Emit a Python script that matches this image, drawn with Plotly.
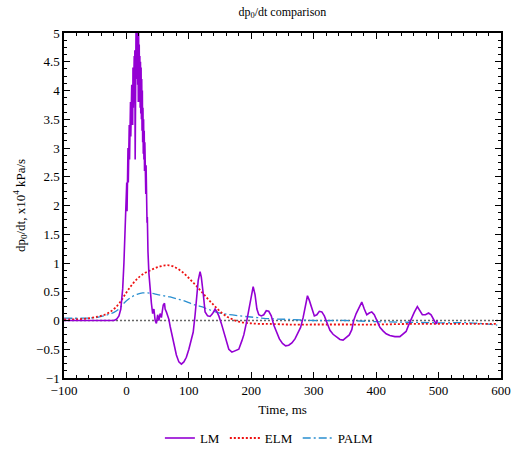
import plotly.graph_objects as go

# ---------------- data ----------------
lm_time = [-100, -20, -16, -12, -9, -6, -4, -2, 0,
           0.5, 1.0, 1.5, 2.0, 2.5, 3.0, 3.5, 4.0, 4.5, 5.0, 5.5, 6.0, 6.5, 7.0, 7.5, 8.0,
           8.5, 9.0, 9.5, 10.0, 10.5, 11.0, 11.5, 12.0, 12.5, 13.0, 13.5, 14.0, 14.5, 15.0,
           15.5, 16.0, 16.5, 17.0, 17.5, 18.0, 18.5, 19.0, 19.5, 20.0, 20.5, 21.0, 21.5, 22.0,
           22.5, 23.0, 23.5, 24.0, 24.5, 25.0, 25.5, 26.0, 26.5, 27.0, 27.5, 28.0, 28.5, 29.0,
           29.5, 30.0, 30.5, 31.0, 31.5, 32.0, 32.5, 33.0, 33.5, 34.0,
           34.5, 36, 38, 40, 42, 44, 46, 48, 50, 52, 54, 56, 58, 59, 61, 62, 64, 66, 68,
           70, 73, 76, 80, 84, 88, 92, 96, 100, 104, 107, 110, 112, 115, 118, 120, 123, 126,
           130, 134, 138, 142, 145, 148, 152, 156, 160, 164, 169, 175, 180, 185, 188, 192,
           195, 199, 203, 206, 209, 212, 216, 220, 224, 228, 232, 236, 241, 245, 250, 255,
           260, 265, 270, 275, 279, 283, 286, 290, 293, 297, 301, 305, 309, 313, 317, 321,
           326, 331, 337, 342, 347, 352, 357, 361, 364, 368, 373, 377, 381, 385, 389, 393,
           397, 401, 406, 411, 416, 422, 430, 438, 443, 448, 452, 457, 461, 466, 470, 474,
           479, 484, 488, 492, 496, 498]
lm_value = [0, 0, 0.02, 0.08, 0.2, 0.55, 1.0, 1.6, 2.1,
            2.4, 1.9, 2.7, 2.2, 3.0, 2.4, 3.2, 2.6, 3.4, 2.8, 3.6, 3.0, 3.8, 3.2, 3.9, 3.3,
            4.1, 3.5, 4.3, 3.4, 4.4, 3.7, 4.5, 3.8, 4.6, 3.9, 4.7, 2.8, 4.9, 4.0,
            5.3, 4.2, 5.6, 4.3, 5.5, 4.1, 5.2, 3.8, 5.0, 3.9, 4.8, 3.8, 4.6, 3.7,
            4.5, 3.6, 4.4, 3.5, 4.2, 3.3, 4.0, 3.1, 3.7, 2.9, 3.5, 2.8, 3.3, 2.6,
            3.1, 2.4, 2.9, 2.2, 2.7, 2.0, 2.3, 1.7, 1.8, 1.3,
            1.2, 0.82, 0.45, 0.3, 0.12, 0.2, 0.0, -0.05, 0.1, 0.0, 0.12, 0.05, 0.2, 0.27, 0.3, 0.2, 0.15, 0.1, 0.02,
            -0.1, -0.25, -0.4, -0.6, -0.72, -0.76, -0.72, -0.64, -0.5, -0.35, -0.2, 0.1, 0.36, 0.7, 0.85, 0.75, 0.47, 0.15,
            0.08, 0.07, 0.12, 0.2, 0.15, 0.08, -0.05, -0.2, -0.38, -0.5, -0.55, -0.53, -0.5, -0.35, -0.25, -0.05,
            0.12, 0.4, 0.59, 0.45, 0.2, 0.1, 0.08, 0.1, 0.17, 0.16, 0.08, -0.08, -0.22, -0.32, -0.4, -0.44,
            -0.43, -0.39, -0.32, -0.22, -0.12, 0.05, 0.21, 0.43, 0.35, 0.2, 0.08, 0.1, 0.16, 0.15, 0.08, -0.03,
            -0.17, -0.24, -0.29, -0.33, -0.34, -0.3, -0.25, -0.16, 0.0, 0.12, 0.25, 0.32, 0.2, 0.1, 0.13, 0.15,
            0.1, 0.0, -0.12, -0.18, -0.23, -0.26, -0.28, -0.28, -0.24, -0.19, -0.08, 0.05, 0.14, 0.24, 0.16, 0.1,
            0.1, 0.13, 0.1, 0.03, -0.06, 0.0]

elm_time = [-100, -80, -60, -45, -35, -26, -18, -10, -4, 2, 8, 15, 22, 30, 38, 46, 54, 62, 68, 75,
            82, 90, 98, 106, 114, 122, 130, 138, 146, 154, 162, 170, 180, 190, 200, 215, 230, 260,
            300, 350, 400, 450, 500, 550, 594]
elm_value = [0.02, 0.02, 0.04, 0.07, 0.1, 0.15, 0.22, 0.32, 0.42, 0.52, 0.61, 0.7, 0.77, 0.83, 0.87,
             0.91, 0.94, 0.96, 0.96, 0.94, 0.9, 0.84, 0.76, 0.67, 0.58, 0.48, 0.38, 0.29, 0.2, 0.12,
             0.06, 0.02, -0.02, -0.04, -0.05, -0.06, -0.06, -0.07, -0.07, -0.07, -0.07, -0.06, -0.06,
             -0.06, -0.06]

palm_time = [-100, -70, -50, -40, -30, -20, -12, -5, 2, 10, 18, 26, 34, 42, 50, 60, 70, 80, 90, 100,
             110, 120, 130, 140, 150, 160, 175, 190, 210, 230, 260, 300, 350, 400, 450, 500, 550,
             575, 594]
palm_value = [0.04, 0.04, 0.05, 0.07, 0.1, 0.14, 0.2, 0.29, 0.36, 0.42, 0.46, 0.48, 0.48, 0.47, 0.45,
              0.43, 0.41, 0.38, 0.35, 0.31, 0.27, 0.24, 0.2, 0.16, 0.13, 0.11, 0.09, 0.07, 0.05, 0.03,
              0.02, 0.0, 0.0, -0.02, -0.03, -0.04, -0.04, -0.06, -0.08]

ref_time = [-100, 600]
ref_value = [0, 0]

x_ticks = [-100, 0, 100, 200, 300, 400, 500, 600]
y_ticks = [-1, -0.5, 0, 0.5, 1, 1.5, 2, 2.5, 3, 3.5, 4, 4.5, 5]

# ---------------- figure ----------------
FONT = "Liberation Serif"
fig = go.Figure()
fig.add_trace(go.Scatter(x=ref_time, y=ref_value, mode="lines", showlegend=False,
                         line=dict(color="#666666", width=1.5, dash="2px,2px"), hoverinfo="skip"))
fig.add_trace(go.Scatter(x=palm_time, y=palm_value, mode="lines", name="PALM",
                         line=dict(color="#2a8fd0", width=1.3, dash="8px,3px,2px,3px", shape="spline")))
fig.add_trace(go.Scatter(x=elm_time, y=elm_value, mode="lines", name="ELM",
                         line=dict(color="#ee1111", width=1.8, dash="2px,2px", shape="spline")))
fig.add_trace(go.Scatter(x=lm_time, y=lm_value, mode="lines", name="LM",
                         line=dict(color="#9400d3", width=1.6)))

axis_common = dict(showline=True, linecolor="black", linewidth=1.5, mirror="allticks",
                   ticks="inside", ticklen=6, tickcolor="black", tickwidth=1,
                   showgrid=False, zeroline=False,
                   tickfont=dict(family=FONT, size=13, color="black"))
fig.update_xaxes(range=[-100, 600], tickvals=x_ticks, **axis_common,
                 minor=dict(ticks="inside", dtick=20, ticklen=3, tickcolor="black", showgrid=False),
                 title=dict(text="Time, ms", font=dict(family=FONT, size=13, color="black"), standoff=8))
fig.update_yaxes(range=[-1, 5], tickvals=y_ticks, **axis_common,
                 minor=dict(ticks="inside", dtick=0.125, ticklen=3, tickcolor="black", showgrid=False),
                 title=dict(text="dp<sub>0</sub>/dt, x10<sup>4</sup> kPa/s",
                            font=dict(family=FONT, size=13, color="black"), standoff=8))

fig.update_layout(
    width=522, height=453,
    margin=dict(l=64, r=21, t=33, b=75, autoexpand=False),
    paper_bgcolor="white", plot_bgcolor="white",
    font=dict(family=FONT, size=13, color="black"),
    title=dict(text="dp<sub>0</sub>/dt comparison", x=0.541, xanchor="center",
               y=0.975, yanchor="middle", font=dict(family=FONT, size=12, color="black")),
    legend=dict(orientation="h", x=0.47, xanchor="center", yref="container", y=0.033,
                yanchor="middle",
                traceorder="reversed", font=dict(family=FONT, size=13, color="black"),
                itemwidth=30, bgcolor="rgba(0,0,0,0)"),
    showlegend=True,
)

fig.write_html("out.html", config={"displayModeBar": False},
               post_script="document.body.style.margin='0';")
